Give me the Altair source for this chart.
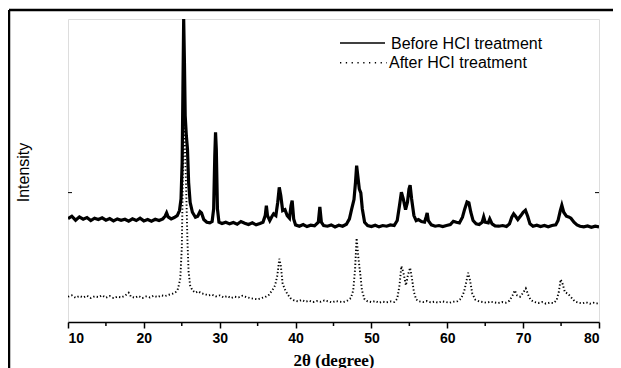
import altair as alt
import pandas as pd

# ---- data (2-theta in degrees, intensity in arbitrary units) ----
before_x = [10.0, 10.5, 11.0, 11.5, 12.0, 12.5, 13.0, 13.5, 14.0, 14.5, 15.0, 15.5, 16.0, 16.5, 17.0, 17.5,
            18.0, 18.5, 19.0, 19.5, 20.0, 20.5, 21.0, 21.5, 22.0, 22.5, 22.8, 23.0, 23.2, 23.6, 24.0, 24.4,
            24.7, 24.9, 25.05, 25.15, 25.25, 25.35, 25.45, 25.6, 25.75, 25.9, 26.1, 26.4, 26.8, 27.1, 27.4,
            27.6, 27.9, 28.3, 28.7, 29.0, 29.2, 29.35, 29.45, 29.55, 29.7, 29.9, 30.3, 30.8, 31.3, 31.8, 32.3,
            32.8, 33.3, 33.8, 34.3, 34.8, 35.3, 35.7, 36.0, 36.15, 36.3, 36.6, 36.9, 37.1, 37.4, 37.65, 37.85,
            38.05, 38.3, 38.6, 38.9, 39.2, 39.4, 39.55, 39.75, 40.0, 40.5, 41.0, 41.5, 42.0, 42.5, 43.0, 43.2,
            43.4, 43.7, 44.2, 44.7, 45.2, 45.7, 46.2, 46.7, 47.1, 47.4, 47.7, 47.9, 48.05, 48.2, 48.4, 48.6,
            48.8, 49.1, 49.5, 50.0, 50.5, 51.0, 51.5, 52.0, 52.5, 53.0, 53.4, 53.7, 53.95, 54.2, 54.5, 54.75,
            54.95, 55.1, 55.3, 55.6, 55.9, 56.2, 56.6, 57.0, 57.2, 57.35, 57.5, 57.9, 58.4, 58.9, 59.4, 59.9,
            60.4, 60.8, 61.2, 61.6, 62.0, 62.3, 62.6, 62.85, 63.1, 63.4, 63.8, 64.2, 64.6, 64.8, 65.0, 65.4,
            65.6, 65.9, 66.3, 66.8, 67.3, 67.8, 68.2, 68.5, 68.75, 69.0, 69.3, 69.7, 70.0, 70.3, 70.6, 70.9,
            71.3, 71.8, 72.3, 72.8, 73.3, 73.8, 74.3, 74.6, 74.9, 75.1, 75.35, 75.7, 76.0, 76.3, 76.7, 77.1,
            77.5, 78.0, 78.5, 79.0, 79.5, 80.0]
before_y = [311, 318, 306, 316, 309, 314, 305, 312, 308, 313, 306, 311, 304, 310, 306, 309,
            303, 310, 305, 312, 304, 308, 303, 309, 305, 310, 318, 328, 316, 310, 314, 320,
            335, 370, 480, 700, 911, 780, 620, 560, 520, 420, 360, 330, 315, 318, 332,
            328, 308, 300, 298, 302, 340, 500, 570, 520, 340, 300, 296, 300, 295, 299, 294,
            302, 297, 293, 298, 292, 296, 300, 320, 350, 320, 305, 318, 325, 320, 360, 405,
            380, 335, 338, 320, 312, 350, 365, 310, 292, 288, 293, 287, 291, 289, 300, 346,
            300, 290, 288, 292, 286, 291, 288, 294, 310, 340, 368, 420, 470, 440, 400, 388,
            340, 300, 290, 287, 291, 286, 290, 288, 292, 290, 305, 350, 390, 370, 338, 360,
            400, 411, 370, 320, 305, 308, 302, 300, 315, 328, 305, 292, 288, 290, 287, 290,
            293, 303, 300, 298, 315, 340, 361, 358, 330, 305, 295, 293, 300, 316, 300, 298,
            310, 295, 289, 288, 290, 287, 295, 315, 325, 318, 308, 320, 330, 336, 318, 295,
            288, 291, 287, 290, 286, 290, 292, 305, 335, 351, 330, 318, 316, 312, 300, 292,
            288, 286, 289, 285, 288, 286]

after_x = [10.0, 10.5, 11.0, 11.5, 12.0, 12.5, 13.0, 13.5, 14.0, 14.5, 15.0, 15.5, 16.0, 16.5, 17.0, 17.5,
           18.0, 18.3, 18.8, 19.3, 19.8, 20.3, 20.8, 21.3, 21.8, 22.3, 22.8, 23.3, 23.8, 24.2, 24.5, 24.8,
           25.0, 25.15, 25.3, 25.45, 25.6, 25.75, 25.9, 26.1, 26.4, 26.8, 27.2, 27.6, 28.0, 28.5, 29.0, 29.5,
           30.0, 30.5, 31.0, 31.5, 32.0, 32.5, 33.0, 33.5, 34.0, 34.5, 35.0, 35.5, 36.0, 36.5, 37.0, 37.3,
           37.6, 37.85, 38.05, 38.3, 38.6, 38.9, 39.3, 39.8, 40.3, 40.8, 41.3, 41.8, 42.3, 42.8, 43.3, 43.8,
           44.3, 44.8, 45.3, 45.8, 46.3, 46.8, 47.3, 47.6, 47.85, 48.05, 48.25, 48.5, 48.75, 49.1, 49.5, 50.0,
           50.5, 51.0, 51.5, 52.0, 52.5, 53.0, 53.4, 53.7, 53.95, 54.2, 54.55, 54.8, 55.1, 55.35, 55.6, 55.9,
           56.3, 56.8, 57.3, 57.8, 58.3, 58.8, 59.3, 59.8, 60.3, 60.8, 61.3, 61.8, 62.2, 62.5, 62.75, 63.0,
           63.3, 63.7, 64.2, 64.7, 65.2, 65.7, 66.2, 66.7, 67.2, 67.7, 68.2, 68.6, 68.9, 69.2, 69.6, 70.0,
           70.35, 70.7, 71.0, 71.5, 72.0, 72.5, 73.0, 73.5, 74.0, 74.4, 74.7, 74.95, 75.2, 75.5, 75.9, 76.3,
           76.8, 77.3, 77.8, 78.3, 78.8, 79.3, 79.8, 80.0]
after_y = [76, 80, 73, 78, 74, 79, 72, 77, 75, 80, 73, 78, 72, 76, 74, 79,
           88, 76, 73, 78, 72, 77, 74, 79, 75, 80, 78, 82, 85, 90, 100, 130,
           220, 450, 640, 500, 380, 240, 150, 110, 95, 88, 92, 86, 84, 80, 82, 77,
           80, 74, 78, 72, 76, 74, 79, 75, 72, 70, 68, 72, 75, 82, 98, 110,
           140, 190, 170, 115, 98, 85, 72, 65, 62, 66, 61, 64, 60, 63, 61, 65,
           62, 59, 63, 61, 60, 64, 72, 95, 160, 252, 200, 150, 95, 68, 62, 60,
           63, 58, 61, 59, 62, 60, 70, 110, 168, 150, 110, 140, 163, 130, 90, 68,
           62, 60, 63, 59, 61, 58, 62, 60, 58, 61, 62, 70, 90, 120, 148, 125,
           85, 67, 62, 60, 58, 61, 59, 57, 60, 58, 64, 80, 95, 80, 76, 88,
           101, 80, 66, 60, 57, 60, 55, 58, 57, 65, 90, 128, 115, 90, 85, 75,
           62, 58, 56, 59, 55, 58, 56, 57]

x_ticks = [10, 20, 30, 40, 50, 60, 70, 80]
x_minor_ticks = [15, 25, 35, 45, 55, 65, 75]
y_ticks = [389]
series_labels = ["Before HCI treatment", "After HCI treatment"]

W, H = 531, 303
SANS = "Liberation Sans"
SERIF = "Liberation Serif"

before = pd.DataFrame({"x": before_x, "y": before_y})
after = pd.DataFrame({"x": after_x, "y": after_y})
minor = pd.DataFrame({"x": x_minor_ticks})
yt = pd.DataFrame({"y": y_ticks})
one = pd.DataFrame({"k": [0]})

xscale = alt.Scale(domain=[10, 80], nice=False)
yscale = alt.Scale(domain=[0, 911], nice=False, zero=False)

xaxis = alt.Axis(values=x_ticks, format="d", title="2θ (degree)",
                 labelFont=SANS, labelFontSize=14, labelFontWeight="bold", labelColor="black",
                 labelPadding=3, tickSize=6, tickWidth=1.5, tickColor="black",
                 domainColor="black", domainWidth=1.5, grid=False,
                 titleFont=SERIF, titleFontSize=17, titleFontWeight="bold", titleColor="black",
                 titleY=43, titleBaseline="alphabetic")
yaxis = alt.Axis(title="Intensity", labels=False, ticks=False, domain=False, grid=False,
                 titleX=-45, titleY=153, titleAngle=270, titleAlign="center", titleBaseline="middle",
                 titleFont=SANS, titleFontSize=16, titleFontWeight="normal", titleColor="black")

line_before = alt.Chart(before).mark_line(color="black", strokeWidth=3.2, clip=True).encode(
    x=alt.X("x:Q", scale=xscale, axis=xaxis),
    y=alt.Y("y:Q", scale=yscale, axis=yaxis),
)
line_after = alt.Chart(after).mark_line(color="black", strokeWidth=1.9, strokeDash=[1.3, 2.2],
                                        clip=True).encode(
    x=alt.X("x:Q", scale=xscale),
    y=alt.Y("y:Q", scale=yscale),
)

minor_ticks = alt.Chart(minor).mark_rule(color="black", strokeWidth=1.5).encode(
    x=alt.X("x:Q", scale=xscale), y=alt.value(H), y2=alt.value(H + 4)
)
inner_left = alt.Chart(yt).mark_rule(color="black", strokeWidth=1).encode(
    y=alt.Y("y:Q", scale=yscale), x=alt.value(0), x2=alt.value(4)
)
inner_right = alt.Chart(yt).mark_rule(color="black", strokeWidth=1).encode(
    y=alt.Y("y:Q", scale=yscale), x=alt.value(W - 4), x2=alt.value(W)
)

# legend (drawn by hand in the upper right of the plot)
leg_line1 = alt.Chart(one).mark_rule(color="black", strokeWidth=1.3).encode(
    x=alt.value(272), x2=alt.value(317), y=alt.value(24))
leg_line2 = alt.Chart(one).mark_rule(color="black", strokeWidth=1.4, strokeDash=[1.3, 4.5]).encode(
    x=alt.value(272), x2=alt.value(319), y=alt.value(43.7))
leg_text1 = alt.Chart(one).mark_text(text=series_labels[0], font=SANS, fontSize=16, align="left",
                                     baseline="middle", color="black").encode(
    x=alt.value(323), y=alt.value(24.5))
leg_text2 = alt.Chart(one).mark_text(text=series_labels[1], font=SANS, fontSize=16, align="left",
                                     baseline="middle", color="black").encode(
    x=alt.value(321), y=alt.value(44.2))

# outer figure frame (top and left edges visible in the reference)
frame_top = alt.Chart(one).mark_rule(color="black", strokeWidth=2.5).encode(
    x=alt.value(-59), x2=alt.value(545), y=alt.value(-9))
frame_left = alt.Chart(one).mark_rule(color="black", strokeWidth=2.5).encode(
    x=alt.value(-59), y=alt.value(-9), y2=alt.value(349))

chart = alt.layer(
    line_before, line_after, minor_ticks, inner_left, inner_right,
    leg_line1, leg_line2, leg_text1, leg_text2, frame_top, frame_left
).properties(
    width=W, height=H,
    autosize=alt.AutoSizeParams(type="none"),
    padding={"left": 60, "top": 11, "right": 14, "bottom": 46},
).configure_view(
    stroke="black", strokeWidth=1.5
).configure(background="white")

chart.save("out.html", embed_options={"renderer": "svg", "actions": False})
